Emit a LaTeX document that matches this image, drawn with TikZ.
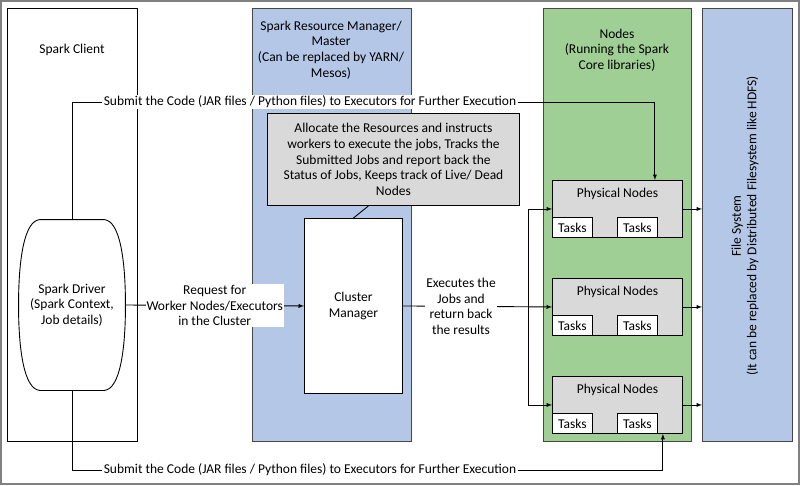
\documentclass[tikz,border=0pt]{standalone}
\usepackage{fontspec}
\setmainfont{Carlito}
\usetikzlibrary{arrows,positioning}

\definecolor{rmblue}{RGB}{180,199,231}
\definecolor{nodegreen}{RGB}{160,207,150}
\definecolor{boxgray}{RGB}{217,217,217}
\definecolor{edgegray}{RGB}{70,70,70}

\begin{document}
\begin{tikzpicture}[x=1pt,y=-1pt,line width=0.9pt,
    font=\fontsize{13.5}{15.7}\selectfont,
    lane/.style={draw=edgegray,line width=1.4pt,anchor=north west,inner sep=0pt,minimum height=433pt},
    box/.style={draw,anchor=north west,inner sep=0pt},
    lbl/.style={fill=white,inner sep=1pt,align=center},
    >=latex]
    \useasboundingbox (0,0) rectangle (800,485);
		\draw[gray,line width=1.2pt] (1,1) rectangle (799,484);
		% columns
		\node[lane,draw=black,line width=0.9pt,minimum width=130pt] (client) at (7,8) {};
		\node[lane,fill=rmblue,minimum width=159pt] (rm) at (252,8) {};
		\node[lane,fill=nodegreen,minimum width=148pt] (nodes) at (543,8) {};
		\node[lane,fill=rmblue,minimum width=90pt] (fs) at (702,8) {};
		\node (clientlabel) at (72,50) {Spark Client};
		\node[align=center] (rmlabel) at (331,50) {Spark Resource Manager/\\Master\\(Can be replaced by YARN/\\Mesos)};
		\node[align=center] (nodeslabel) at (617,50) {Nodes\\(Running the Spark\\Core libraries)};
		\node[align=center,rotate=90] (fslabel) at (745,226) {File System\\(It can be replaced by Distributed Filesystem like HDFS)};
		% resource manager
		\node[box,fill=boxgray,minimum width=252pt,minimum height=92pt] (alloc) at (267,113) {};
		\node[align=center] (alloctext) at (alloc.center) {Allocate the Resources and instructs\\workers to execute the jobs, Tracks the\\Submitted Jobs and report back the\\Status of Jobs, Keeps track of Live/ Dead\\Nodes};
		\node[box,fill=white,minimum width=98pt,minimum height=175pt,align=center] (cm) at (304,218) {};
		\node[align=center] (cmtext) at (cm.center) {Cluster\\Manager};
		\draw (alloc.south) ++(-25,0) -- (cm.north);
		% driver
		\node[minimum width=106pt,minimum height=170pt,align=center] (driver) at (72,305) {Spark Driver\\(Spark Context,\\Job details)};
		\draw ([xshift=-32pt]driver.north) -- ([xshift=32pt]driver.north)
			.. controls +(16,1) and +(0,-45) .. (driver.east)
			.. controls +(0,45) and +(16,-1) .. ([xshift=32pt]driver.south)
			-- ([xshift=-32pt]driver.south)
			.. controls +(-16,-1) and +(0,45) .. (driver.west)
			.. controls +(0,-45) and +(-16,1) .. cycle;
		% physical nodes
		\foreach \i/\y in {1/180,2/278,3/376} {
			\node[box,fill=boxgray,minimum width=130pt,minimum height=57pt] (pn\i) at (552,\y) {};
			\node (pntext\i) at ([yshift=-14pt]pn\i.north) {Physical Nodes};
			\node[box,anchor=south west,fill=white,minimum width=40pt,minimum height=20pt] (ta\i) at (pn\i.south west) {Tasks};
			\node[box,anchor=south west,fill=white,minimum width=40pt,minimum height=20pt] (tb\i) at ([xshift=65pt]pn\i.south west) {Tasks};
			\draw[->] (pn\i.east) -- (pn\i.east -| fs.west);
		}
		% connectors
		\node[lbl] (subtop) at (310,102) {Submit the Code (JAR files / Python files) to Executors for Further Execution};
		\node[lbl] (subbot) at (310,470) {Submit the Code (JAR files / Python files) to Executors for Further Execution};
		\draw (driver.north) |- (subtop.west);
		\draw[->] (subtop.east) -| ([xshift=-28pt]pn1.north east);
		\draw (driver.south) |- (subbot.west);
		\draw[->] (subbot.east) -| ([xshift=-20pt]pn3.south east);
		\draw[->] (driver.east) -- node[lbl] (req) {Request for\\Worker Nodes/Executors\\in the Cluster} (cm.west);
		\draw[->] (cm.east) -- node[lbl,pos=0.39] (exec) {Executes the\\Jobs and\\return back\\the results} (pn2.west);
		\coordinate (jn) at (528,306);
		\draw[->] (jn) |- (pn1.west);
		\draw[->] (jn) |- (pn3.west);
	\end{tikzpicture}
\end{document}
